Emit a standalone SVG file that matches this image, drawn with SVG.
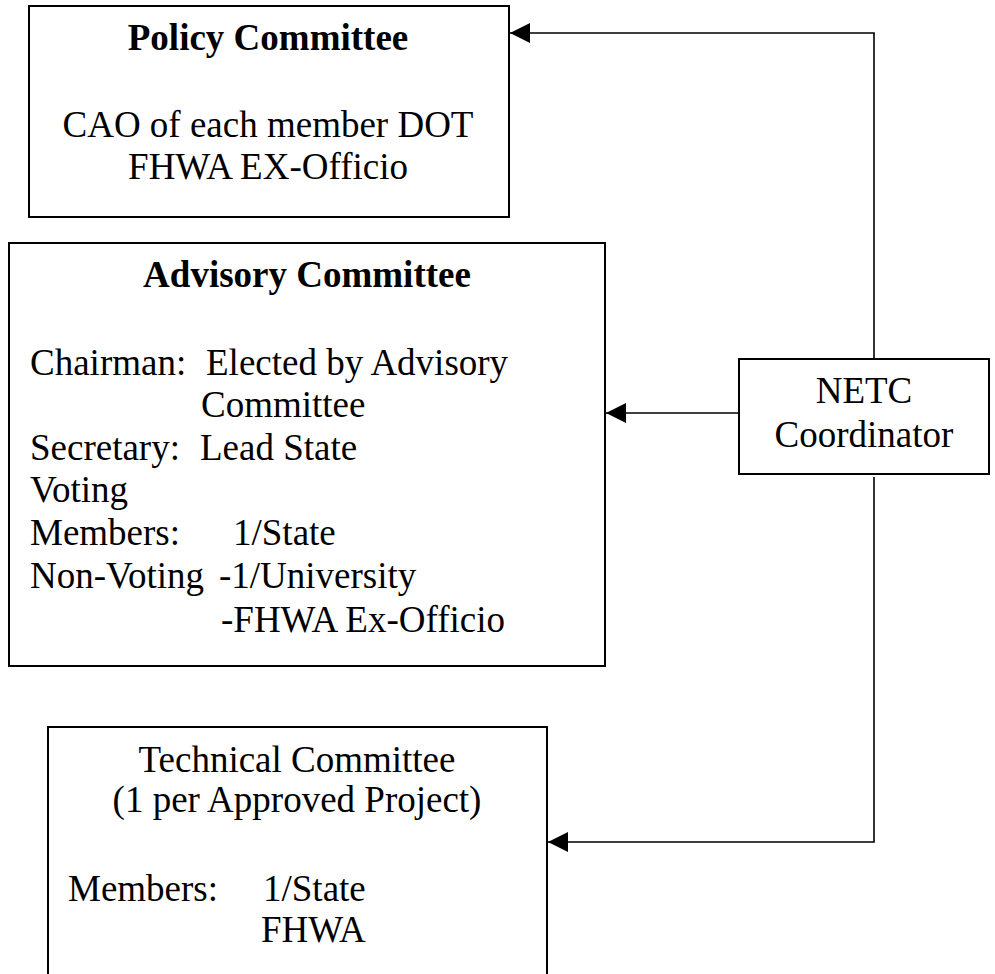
<svg xmlns="http://www.w3.org/2000/svg" width="995" height="974" viewBox="0 0 995 974">
<style>
.box{fill:#fff;stroke:#000;stroke-width:2}
.t{font-family:"Liberation Serif","Times New Roman",serif;font-size:37px;fill:#000}
.b{font-weight:bold}
.c{text-anchor:middle}
.conn{fill:none;stroke:#000;stroke-width:1.6}
</style>
<defs>
<marker id="arr" viewBox="0 0 20 20" refX="20" refY="10" markerWidth="20" markerHeight="20" markerUnits="userSpaceOnUse" orient="auto">
<path d="M0,0 L20,10 L0,20 Z" fill="#000"/>
</marker>
</defs>
<rect width="995" height="974" fill="#fff"/>
<g id="policy">
<rect class="box" x="29" y="6" width="480" height="211"/>
<text class="t b c" x="268" y="50">Policy Committee</text>
<text class="t c" x="268" y="137">CAO of each member DOT</text>
<text class="t c" x="268" y="179">FHWA EX-Officio</text>
</g>
<g id="advisory">
<rect class="box" x="9" y="243" width="596" height="423"/>
<text class="t b c" x="307" y="287">Advisory Committee</text>
<text class="t" x="30" y="375">Chairman:</text>
<text class="t" x="206" y="375">Elected by Advisory</text>
<text class="t" x="201" y="417">Committee</text>
<text class="t" x="30" y="460">Secretary:</text>
<text class="t" x="200" y="460">Lead State</text>
<text class="t" x="30" y="502">Voting</text>
<text class="t" x="30" y="545">Members:</text>
<text class="t" x="233" y="545">1/State</text>
<text class="t" x="30" y="588">Non-Voting</text>
<text class="t" x="219" y="588">-1/University</text>
<text class="t" x="221" y="632">-FHWA Ex-Officio</text>
</g>
<g id="netc">
<rect class="box" x="739" y="359" width="250" height="115"/>
<text class="t c" x="864" y="403">NETC</text>
<text class="t c" x="864" y="447">Coordinator</text>
</g>
<g id="technical">
<rect class="box" x="48" y="727" width="499" height="265"/>
<text class="t c" x="297" y="772">Technical Committee</text>
<text class="t c" x="297" y="812">(1 per Approved Project)</text>
<text class="t" x="68" y="901">Members:</text>
<text class="t" x="263" y="901">1/State</text>
<text class="t" x="261" y="942">FHWA</text>
</g>
<g id="connectors">
<path class="conn" d="M874,359 L874,33 L510,33" marker-end="url(#arr)"/>
<path class="conn" d="M739,413 L606,413" marker-end="url(#arr)"/>
<path class="conn" d="M874,477 L874,842 L548,842" marker-end="url(#arr)"/>
</g>
</svg>
